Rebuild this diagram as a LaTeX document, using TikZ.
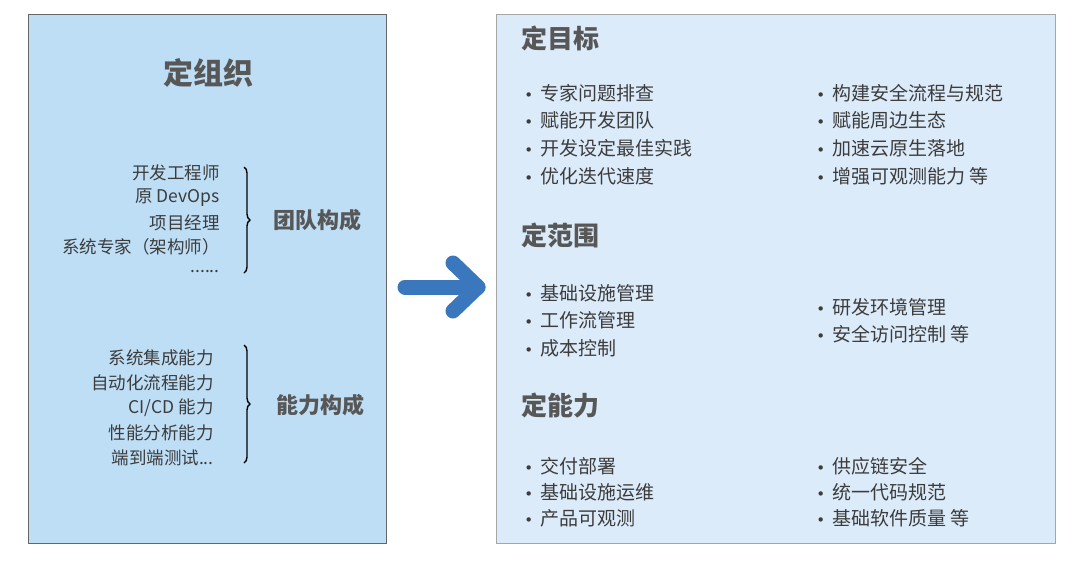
\documentclass[tikz,border=0pt]{standalone}
\usepackage{fontspec}
\setmainfont{Noto Sans CJK SC}
\newfontfamily\bulletfont{DejaVu Sans}
\usetikzlibrary{positioning,decorations.pathreplacing}

\definecolor{orgfill}{HTML}{BEDEF6}
\definecolor{planfill}{HTML}{DCEBFA}
\definecolor{itemgray}{HTML}{3C3C3C}
\definecolor{headgray}{HTML}{575757}
\definecolor{arrowblue}{HTML}{3B77BC}
\newcommand{\sixdots}{......}
\newcommand{\threedots}{...}
\newcommand{\dotitem}[1]{{\bulletfont\fontsize{15}{15}\selectfont •}\hspace{7pt}#1}

\begin{document}
\begin{tikzpicture}[x=1pt, y=-1pt, semithick]
	\tikzset{
		heading/.style={text=headgray, font=\bfseries\fontsize{#1}{#1}\selectfont, inner sep=0pt},
		member/.style={text=itemgray, font=\fontsize{17.5}{20}\selectfont, anchor=east, inner sep=0pt},
		goal/.style={text=itemgray, font=\fontsize{19}{22}\selectfont, anchor=west, inner sep=0pt},
		groupbrace/.style={decorate, decoration={brace, amplitude=6pt}, line width=1.4pt, black}
	}
	\useasboundingbox (0,0) rectangle (1080,574);

	% the two panels
	\draw[fill=orgfill, draw=black!60, line width=0.8pt] (28,14) rectangle (386,543);
	\draw[fill=planfill, draw=black!35, line width=0.8pt] (496,14) rectangle (1055,543);

	% left panel
	\node[heading=30] (org) at (208,73) {定组织};

	\foreach \t [count=\i from 0] in {开发工程师, 原 DevOps, 项目经理, 系统专家（架构师）, \sixdots}
		\node[member] (team\i) at (220,173+24.7*\i) {\t};
	\coordinate (teamtop) at (244,167);
	\coordinate (teambot) at (244,273);
	\draw[groupbrace] (teamtop) -- (teambot);
	\node[heading=22] (team) at (317,220) {团队构成};

	\foreach \t [count=\i from 0] in {系统集成能力, 自动化流程能力, CI/CD 能力, 性能分析能力, 端到端测试\threedots}
		\node[member] (skill\i) at (214,358+25*\i) {\t};
	\coordinate (skilltop) at (244,345);
	\coordinate (skillbot) at (244,463);
	\draw[groupbrace] (skilltop) -- (skillbot);
	\node[heading=22] (skill) at (320,405) {能力构成};

	% arrow between panels
	\coordinate (tail) at (405,287);
	\coordinate (tip) at (478,287);
	\coordinate (wingup) at (453,263);
	\coordinate (wingdown) at (453,311);
	\draw[arrowblue, line width=15pt, line cap=round, line join=round] (tail) -- (tip);
	\draw[arrowblue, line width=15pt, line cap=round, line join=round] (wingup) -- (tip) -- (wingdown);

	% right panel
	\node[heading=26, anchor=west] (goals) at (521,38) {定目标};
	\foreach \t [count=\i from 0] in {专家问题排查, 赋能开发团队, 开发设定最佳实践, 优化迭代速度}
		\node[goal] (goalL\i) at (524,93+27.7*\i) {\dotitem{\t}};
	\foreach \t [count=\i from 0] in {构建安全流程与规范, 赋能周边生态, 加速云原生落地, 增强可观测能力 等}
		\node[goal] (goalR\i) at (816,93+27.7*\i) {\dotitem{\t}};

	\node[heading=26, anchor=west] (scope) at (521,235) {定范围};
	\foreach \t [count=\i from 0] in {基础设施管理, 工作流管理, 成本控制}
		\node[goal] (scopeL\i) at (524,293+27.5*\i) {\dotitem{\t}};
	\foreach \t [count=\i from 0] in {研发环境管理, 安全访问控制 等}
		\node[goal] (scopeR\i) at (816,307+27.5*\i) {\dotitem{\t}};

	\node[heading=26, anchor=west] (ability) at (521,406) {定能力};
	\foreach \t [count=\i from 0] in {交付部署, 基础设施运维, 产品可观测}
		\node[goal] (abilityL\i) at (524,466+26*\i) {\dotitem{\t}};
	\foreach \t [count=\i from 0] in {供应链安全, 统一代码规范, 基础软件质量 等}
		\node[goal] (abilityR\i) at (816,466+26*\i) {\dotitem{\t}};
\end{tikzpicture}
\end{document}
